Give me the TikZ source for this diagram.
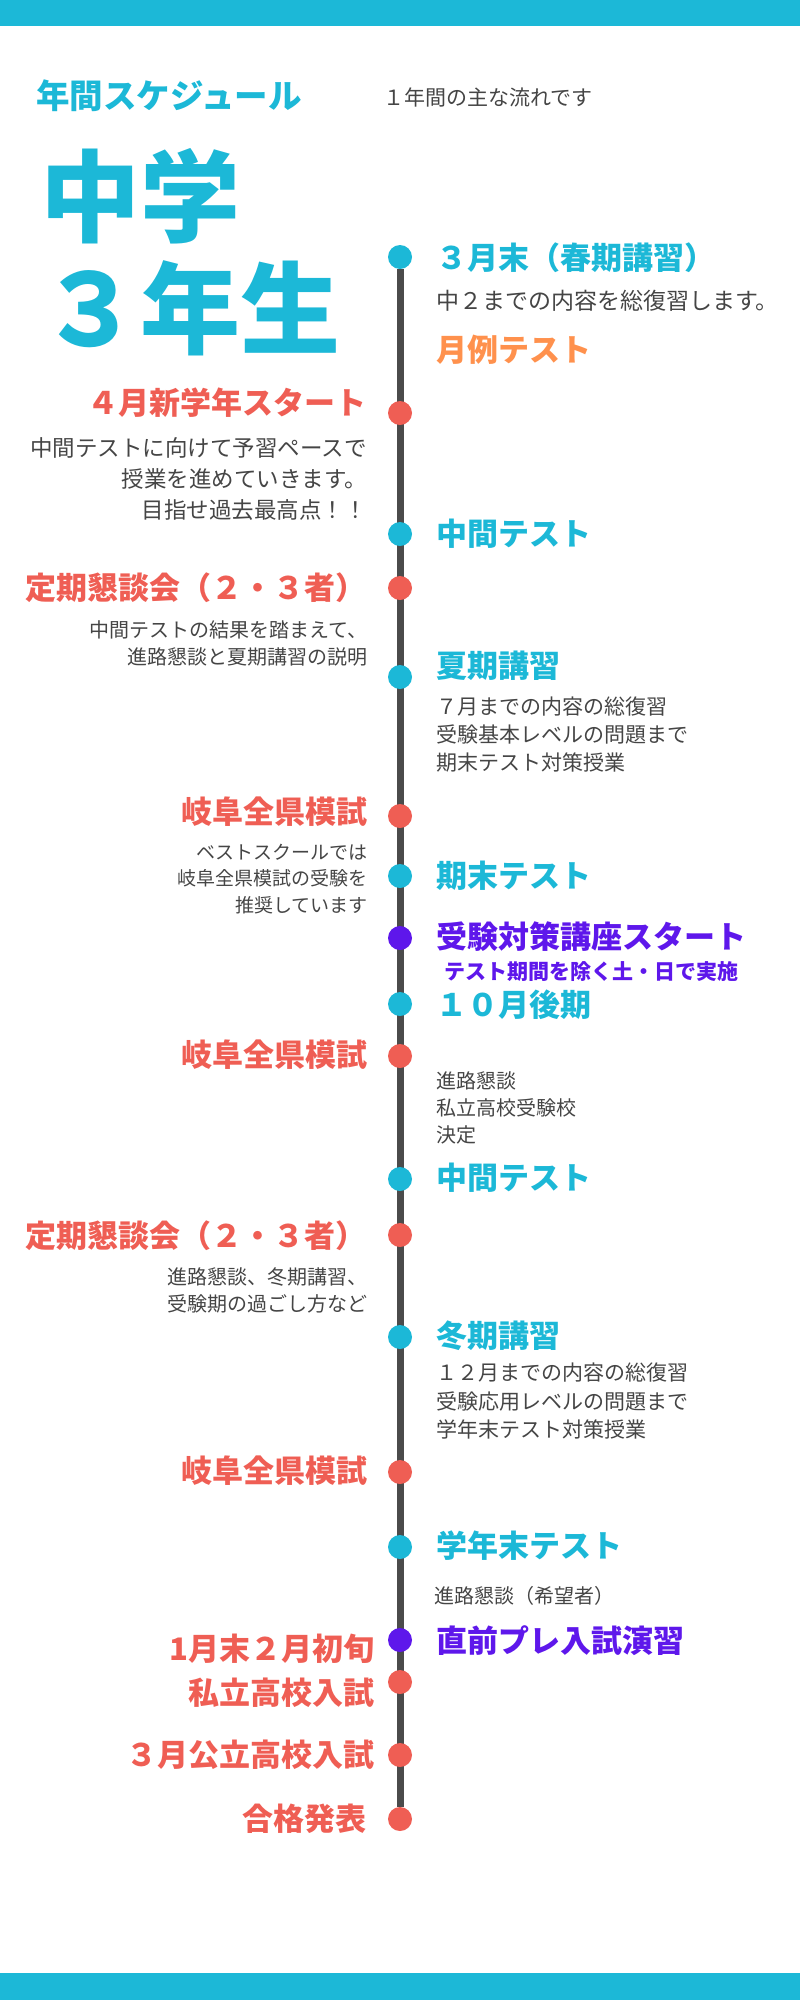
\documentclass[tikz,border=0pt]{standalone}
\usepackage{fontspec}
\setmainfont{Noto Sans CJK JP}
\usetikzlibrary{positioning,backgrounds}

\definecolor{skyblue}{HTML}{1CB8D7}
\definecolor{coral}{HTML}{EF5E54}
\definecolor{apricot}{HTML}{FF914D}
\definecolor{grape}{HTML}{5E17EB}
\definecolor{inkgray}{HTML}{454545}
\definecolor{railgray}{HTML}{4B4B4B}

\begin{document}
\begin{tikzpicture}[x=1pt,y=-1pt,
    rail/.style={line width=7pt,draw=railgray},
    blue stop/.style={circle,fill=skyblue,inner sep=0pt,outer sep=0pt,minimum size=24pt},
    red stop/.style={circle,fill=coral,inner sep=0pt,outer sep=0pt,minimum size=24pt},
    grape stop/.style={circle,fill=grape,inner sep=0pt,outer sep=0pt,minimum size=24pt},
    head/.style={inner sep=0pt,font=\fontsize{31}{44}\selectfont\bfseries},
    note/.style={inner sep=0pt,text=inkgray}]

    \useasboundingbox (0,0) rectangle (800,2000);
    \fill[skyblue] (0,0) rectangle (800,26);
    \fill[skyblue] (0,1973) rectangle (800,2000);

    % title
    \node[inner sep=0pt,anchor=west,text=skyblue,font=\fontsize{33.5}{36}\selectfont\bfseries] (title) at (36,96) {年間スケジュール};
    \node[note,anchor=west,font=\fontsize{21}{24}\selectfont] (sub) at (383,97) {１年間の主な流れです};
    \node[inner sep=0pt,anchor=west,text=skyblue,font=\fontsize{100}{112}\selectfont\bfseries] (big1) at (40,196) {中学};
    \node[inner sep=0pt,anchor=west,text=skyblue,font=\fontsize{100}{112}\selectfont\bfseries] (big2) at (40,308) {３年生};

    % stops
    \node[blue stop] (d1) at (400,257) {};
    \node[red stop] (d2) at (400,413) {};
    \node[blue stop] (d3) at (400,534) {};
    \node[red stop] (d4) at (400,588) {};
    \node[blue stop] (d5) at (400,677) {};
    \node[red stop] (d6) at (400,816) {};
    \node[blue stop] (d7) at (400,876) {};
    \node[grape stop] (d8) at (400,938) {};
    \node[blue stop] (d9) at (400,1004) {};
    \node[red stop] (d10) at (400,1056) {};
    \node[blue stop] (d11) at (400,1179) {};
    \node[red stop] (d12) at (400,1235) {};
    \node[blue stop] (d13) at (400,1337) {};
    \node[red stop] (d14) at (400,1472) {};
    \node[blue stop] (d15) at (400,1547) {};
    \node[grape stop] (d16) at (400,1640) {};
    \node[red stop] (d17) at (400,1682) {};
    \node[red stop] (d18) at (400,1755) {};
    \node[red stop] (d19) at (400,1819) {};

    \begin{scope}[on background layer]
        \draw[rail] (d1) -- (d19);
    \end{scope}

    % right side
    \node[head,text=skyblue,anchor=west] (r1) at (436,258) {３月末（春期講習）};
    \node[note,anchor=north west,font=\fontsize{23}{31}\selectfont] (r1a) at (436,290) {中２までの内容を総復習します。};
    \node[head,text=apricot,anchor=west] (r1b) at (436,350) {月例テスト};
    \node[head,text=skyblue,anchor=west] (r3) at (436,534) {中間テスト};
    \node[head,text=skyblue,anchor=west] (r5) at (436,666) {夏期講習};
    \node[note,anchor=north west,align=left,font=\fontsize{21}{28}\selectfont] (r5a) at (436,697)
        {７月までの内容の総復習\\受験基本レベルの問題まで\\期末テスト対策授業};
    \node[head,text=skyblue,anchor=west] (r7) at (436,876) {期末テスト};
    \node[head,text=grape,anchor=west] (r8) at (436,937) {受験対策講座スタート};
    \node[inner sep=0pt,text=grape,font=\fontsize{21}{24}\selectfont\bfseries,below=9pt of r8] (r8a) {テスト期間を除く土・日で実施};
    \node[head,text=skyblue,anchor=west] (r9) at (436,1005) {１０月後期};
    \node[note,anchor=north west,align=left,font=\fontsize{20}{27}\selectfont] (r10a) at (436,1071)
        {進路懇談\\私立高校受験校\\決定};
    \node[head,text=skyblue,anchor=west] (r11) at (436,1178) {中間テスト};
    \node[head,text=skyblue,anchor=west] (r13) at (436,1336) {冬期講習};
    \node[note,anchor=north west,align=left,font=\fontsize{21}{28.5}\selectfont] (r13a) at (436,1363)
        {１２月までの内容の総復習\\受験応用レベルの問題まで\\学年末テスト対策授業};
    \node[head,text=skyblue,anchor=west] (r15) at (436,1546) {学年末テスト};
    \node[note,anchor=west,font=\fontsize{20}{24}\selectfont] (r15a) at (434,1596) {進路懇談（希望者）};
    \node[head,text=grape,anchor=west] (r16) at (436,1641) {直前プレ入試演習};

    % left side
    \node[head,text=coral,anchor=east] (l2) at (367,403) {４月新学年スタート};
    \node[note,anchor=north east,align=right,font=\fontsize{22.5}{31}\selectfont] (l2a) at (367,437)
        {中間テストに向けて予習ペースで\\授業を進めていきます。\\目指せ過去最高点！！};
    \node[head,text=coral,anchor=east] (l4) at (367,588) {定期懇談会（２・３者）};
    \node[note,anchor=north east,align=right,font=\fontsize{20}{27}\selectfont] (l4a) at (368,620)
        {中間テストの結果を踏まえて、\\進路懇談と夏期講習の説明};
    \node[head,text=coral,anchor=east] (l6) at (368,812) {岐阜全県模試};
    \node[note,anchor=north east,align=right,font=\fontsize{19}{26.5}\selectfont] (l6a) at (368,843.5)
        {ベストスクールでは\\岐阜全県模試の受験を\\推奨しています};
    \node[head,text=coral,anchor=east] (l10) at (368,1055) {岐阜全県模試};
    \node[head,text=coral,anchor=east] (l12) at (367,1236) {定期懇談会（２・３者）};
    \node[note,anchor=north east,align=right,font=\fontsize{20}{27}\selectfont] (l12a) at (368,1267)
        {進路懇談、冬期講習、\\受験期の過ごし方など};
    \node[head,text=coral,anchor=east] (l14) at (368,1471) {岐阜全県模試};
    \node[head,text=coral,anchor=north east,align=right] (l17) at (375,1634) {1月末２月初旬\\私立高校入試};
    \node[head,text=coral,anchor=east] (l18) at (375,1755) {３月公立高校入試};
    \node[head,text=coral,anchor=east] (l19) at (367,1819) {合格発表};
\end{tikzpicture}
\end{document}
